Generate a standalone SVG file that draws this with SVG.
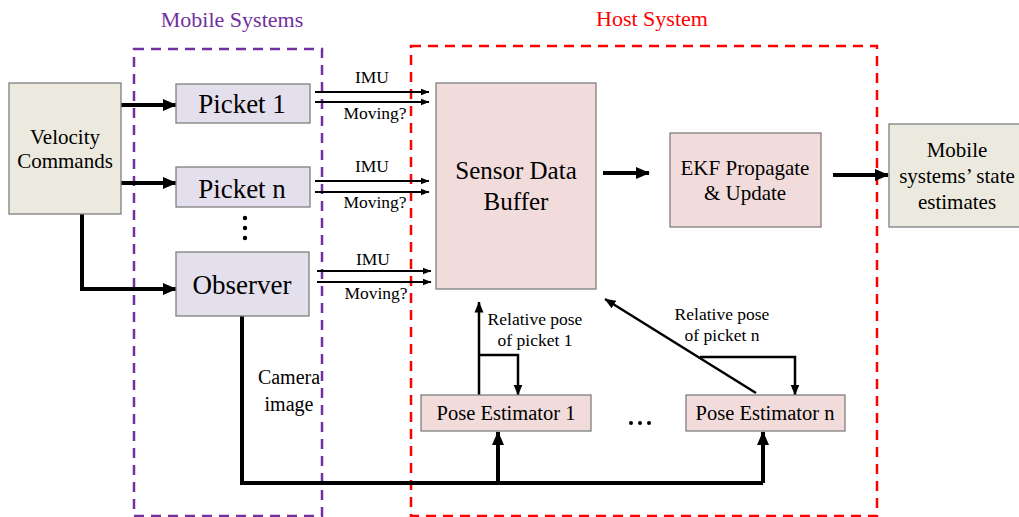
<svg xmlns="http://www.w3.org/2000/svg" width="1019" height="517" viewBox="0 0 1019 517" font-family="'Liberation Serif', 'Times New Roman', 'DejaVu Serif', serif">
<style>
text{font-family:'Liberation Serif','Times New Roman','DejaVu Serif',serif;fill:#000;text-anchor:middle}
.box{stroke:#7f7f7f;stroke-width:1.3}
.beige{fill:#ECEADF}
.lav{fill:#E4DFEC}
.pink{fill:#F2DCDB}
.thick{stroke:#000;stroke-width:4;fill:none}
.thin{stroke:#000;stroke-width:2;fill:none}
.med{stroke:#000;stroke-width:2.5;fill:none}
</style>
<defs>
<marker id="ah" markerUnits="userSpaceOnUse" markerWidth="14" markerHeight="12" refX="13" refY="6" orient="auto"><path d="M0,0 L14,6 L0,12 z" fill="#000"/></marker>
<marker id="as" markerUnits="userSpaceOnUse" markerWidth="9" markerHeight="8" refX="8.5" refY="4" orient="auto"><path d="M0,0.5 L9,4 L0,7.5 z" fill="#000"/></marker>
<marker id="am" markerUnits="userSpaceOnUse" markerWidth="11" markerHeight="10" refX="10.5" refY="5" orient="auto"><path d="M0,0.5 L11,5 L0,9.5 z" fill="#000"/></marker>
</defs>
<g id="groups">
<rect x="134" y="49" width="188" height="467" fill="none" stroke="#7030A0" stroke-width="2.5" stroke-dasharray="10,7"/>
<text x="232" y="27" font-size="22" style="fill:#7030A0">Mobile Systems</text>
<rect x="411" y="46" width="466" height="470" fill="none" stroke="#FF0000" stroke-width="2.5" stroke-dasharray="10,7"/>
<text x="652" y="26" font-size="22" style="fill:#FF0000">Host System</text>
</g>
<g id="connectors">
<path class="thick" d="M121,105 H176" marker-end="url(#ah)"/>
<path class="thick" d="M121,183 H176" marker-end="url(#ah)"/>
<path class="thick" d="M82,214 V289 H176" marker-end="url(#ah)"/>
<path class="thin" d="M315,92 H429" marker-end="url(#as)"/>
<path class="thin" d="M315,102 H429" marker-end="url(#as)"/>
<path class="thin" d="M315,181 H429" marker-end="url(#as)"/>
<path class="thin" d="M315,192 H429" marker-end="url(#as)"/>
<path class="thin" d="M317,271 H431" marker-end="url(#as)"/>
<path class="thin" d="M317,282 H431" marker-end="url(#as)"/>
<path class="thick" d="M603,173 H649" marker-end="url(#ah)"/>
<path class="thick" stroke-width="5" d="M833,175 H888" marker-end="url(#ah)"/>
<path class="thick" d="M242,316 V483 H763"/>
<path class="thick" d="M498,483 V432" marker-end="url(#ah)"/>
<path class="thick" d="M763,483 V432" marker-end="url(#ah)"/>
<path class="med" d="M479,395 V302" marker-end="url(#am)"/>
<path class="med" d="M479,355 H518 V395" marker-end="url(#am)"/>
<path class="med" d="M756,393 L605,299" marker-end="url(#am)"/>
<path class="med" d="M700,357 H795 V395" marker-end="url(#am)"/>
<circle cx="245" cy="218" r="2.2"/>
<circle cx="245" cy="228" r="2.2"/>
<circle cx="245" cy="238" r="2.2"/>
<circle cx="631" cy="423" r="2"/>
<circle cx="640" cy="423" r="2"/>
<circle cx="649" cy="423" r="2"/>
</g>
<g id="labels">
<text x="372" y="83" font-size="17.5">IMU</text>
<text x="375" y="119" font-size="17.5">Moving?</text>
<text x="372" y="172" font-size="17.5">IMU</text>
<text x="375" y="208" font-size="17.5">Moving?</text>
<text x="373" y="265" font-size="17.5">IMU</text>
<text x="376" y="299" font-size="17.5">Moving?</text>
<text x="535" y="325" font-size="17.5">Relative pose</text>
<text x="535" y="346" font-size="17.5">of picket 1</text>
<text x="722" y="320" font-size="17.5">Relative pose</text>
<text x="722" y="341" font-size="17.5">of picket n</text>
<text x="289" y="384" font-size="20">Camera</text>
<text x="289" y="411" font-size="20">image</text>
</g>
<g id="velocity">
<rect class="box beige" x="9" y="83" width="112" height="131"/>
<text x="65" y="144" font-size="21">Velocity</text>
<text x="65" y="168" font-size="21">Commands</text>
</g>
<g id="picket1">
<rect class="box lav" x="176" y="84" width="134" height="39"/>
<text x="242" y="113" font-size="27">Picket 1</text>
</g>
<g id="picketn">
<rect class="box lav" x="176" y="167" width="134" height="40"/>
<text x="242" y="198" font-size="27">Picket n</text>
</g>
<g id="observer">
<rect class="box lav" x="176" y="252" width="133" height="64"/>
<text x="242" y="294" font-size="27">Observer</text>
</g>
<g id="buffer">
<rect class="box pink" x="436" y="83" width="160" height="206"/>
<text x="516" y="179" font-size="25">Sensor Data</text>
<text x="516" y="210" font-size="25">Buffer</text>
</g>
<g id="ekf">
<rect class="box pink" x="670" y="133" width="151" height="94"/>
<text x="745" y="175" font-size="21">EKF Propagate</text>
<text x="745" y="200" font-size="21">&amp; Update</text>
</g>
<g id="estimates">
<rect class="box beige" x="889" y="124" width="135" height="103"/>
<text x="957" y="157" font-size="21">Mobile</text>
<text x="957" y="183" font-size="21">systems’ state</text>
<text x="957" y="209" font-size="21">estimates</text>
</g>
<g id="pose1">
<rect class="box pink" x="421" y="395" width="170" height="36"/>
<text x="506" y="420" font-size="20.5">Pose Estimator 1</text>
</g>
<g id="posen">
<rect class="box pink" x="686" y="395" width="159" height="36"/>
<text x="765" y="420" font-size="20.5">Pose Estimator n</text>
</g>
</svg>
